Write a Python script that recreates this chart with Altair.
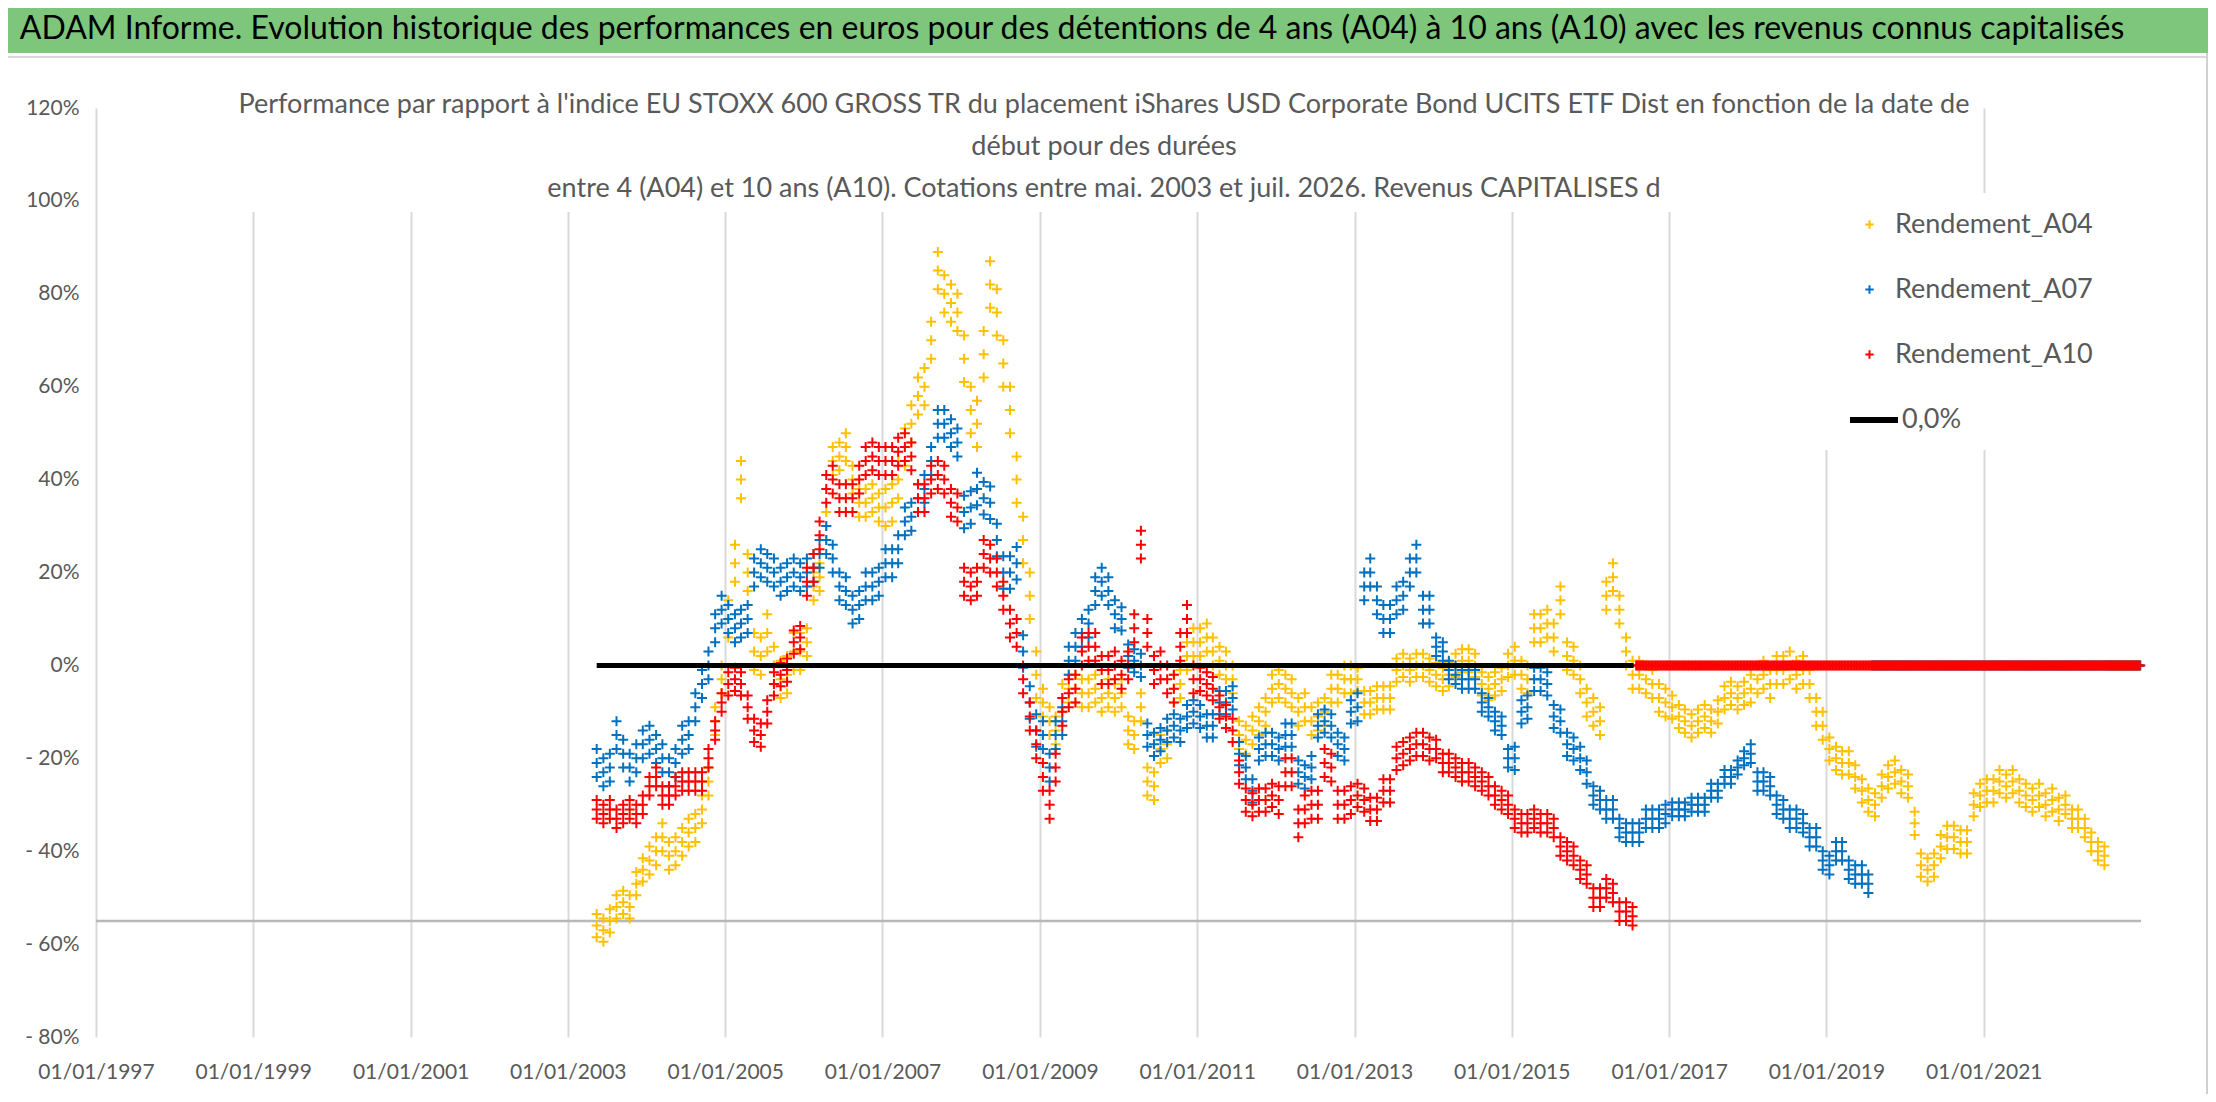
import altair as alt
import pandas as pd

FONT = "Lato, Liberation Sans, sans-serif"

TITLE = ("ADAM Informe. Evolution historique des performances en euros pour des "
         "détentions de 4 ans (A04) à 10 ans (A10) avec les revenus connus capitalisés")
SUB1 = ("Performance par rapport à l'indice EU STOXX 600 GROSS TR  du placement iShares USD "
        "Corporate Bond UCITS ETF Dist en fonction de la date de")
SUB2 = "début pour des durées"
SUB3 = ("entre 4 (A04) et 10 ans (A10). Cotations entre mai. 2003 et juil. 2026. "
        "Revenus CAPITALISES d")

SERIES = ["Rendement_A04", "Rendement_A07", "Rendement_A10"]
COLORS = ["#FFC000", "#0070C0", "#FF0000"]
LINE_LABEL = "0,0%"

# monthly readings (in %), first month = May 2003
START = "2003-05-01"
A04 = [
    -56, -57, -55, -52, -51, -52, -47, -44,
    -42, -40, -37, -41, -40, -38, -36, -35, -31, -25, -12, -3,
    10, 22, 40, 20, 3, 2, 7, 0, -3, -2, 3, 3,
    5, 17, 19, 30, 44, 45, 47, 40, 35, 35, 36, 34,
    34, 35, 40, 47, 52, 58, 60, 70, 85, 80, 78, 76,
    66, 55, 52, 67, 82, 76, 65, 55, 40, 27, 15, -2,
    -8, -12, -14, -7, -5, -5, -6, -6, -5, -7, -6, -7,
    -6, -14, -15, -9, -25, -26, -18, -17, -5, -4, 2, 5,
    5, 6, 3, 1, 0, -3, -15, -16, -14, -12, -10, -5,
    -4, -5, -6, -10, -9, -12, -11, -10, -5, -5, -3, -3,
    -3, -8, -8, -7, -7, -7, -1, 0, -1, 0, 0, -1,
    -2, -3, -2, 0, 1, 1, 0, -4, -5, -4, -3, 0,
    1, -2, -3, 8, 8, 9, 6, 14, 2, 1, -3, -8,
    -10, -12, 15, 19, 12, 3, -2, -2, -3, -4, -7, -8,
    -9, -11, -12, -13, -12, -11, -12, -10, -7, -6, -7, -6,
    -5, -3, -2, -4, -1, -1, 0, -2, -1, -4, -10, -13,
    -18, -20, -21, -21, -24, -27, -29, -30, -26, -24, -23, -25,
    -26, -34, -43, -44, -43, -39, -37, -37, -38, -38, -30, -28,
    -27, -27, -25, -26, -25, -27, -28, -29, -28, -30, -29, -31,
    -30, -33, -33, -35, -38, -40, -41,
]
A07 = [
    -21, -23, -22, -15, -19, -22, -20, -17,
    -16, -18, -20, -23, -21, -16, -15, -9, -4, 0, 8, 12,
    10, 8, 9, 10, 20, 22, 21, 20, 18, 19, 20, 19,
    20, 21, 24, 27, 23, 17, 16, 12, 13, 17, 17, 18,
    22, 22, 25, 31, 32, 36, 38, 44, 52, 52, 50, 48,
    33, 34, 38, 36, 35, 27, 20, 20, 22, 3, -8, -14,
    -15, -22, -15, -12, 1, 4, 7, 9, 16, 18, 16, 11,
    10, 2, 1, 0, -15, -17, -16, -14, -13, -14, -11, -10,
    -11, -13, -13, -8, -8, -7, -19, -22, -27, -18, -17, -17,
    -18, -15, -15, -23, -24, -22, -13, -12, -13, -17, -18, -10,
    -9, 17, 20, 14, 10, 10, 14, 15, 20, 23, 12, 12,
    4, 3, -1, -2, -3, -3, -3, -8, -9, -12, -13, -20,
    -20, -10, -9, -3, -3, -4, -11, -12, -17, -18, -20, -23,
    -28, -29, -31, -31, -35, -36, -36, -36, -33, -33, -33, -32,
    -31, -31, -31, -30, -30, -30, -27, -27, -24, -24, -22, -20,
    -19, -25, -25, -26, -30, -31, -33, -33, -34, -37, -37, -42,
    -43, -40, -40, -44, -45, -45, -47,
]
A10 = [
    -31, -32, -31, -33, -32, -31, -32, -30,
    -26, -24, -28, -28, -26, -25, -25, -25, -25, -20, -14, -8,
    -4, -3, -4, -9, -14, -15, -10, -4, -2, -1, 5, 6,
    18, 21, 28, 38, 40, 36, 36, 36, 40, 44, 45, 44,
    44, 44, 46, 47, 45, 36, 36, 40, 41, 40, 35, 34,
    18, 17, 18, 24, 23, 20, 15, 9, 7, -3, -11, -17,
    -24, -30, -22, -10, -6, -5, 3, 4, 4, -1, -1, 0,
    -2, 0, 8, 26, 7, -1, 0, -3, -5, 4, 10, -3,
    -3, -4, -5, -9, -11, -14, -23, -29, -30, -29, -29, -28,
    -29, -23, -23, -34, -31, -30, -30, -21, -22, -30, -30, -29,
    -28, -29, -31, -31, -27, -27, -20, -19, -18, -17, -17, -18,
    -18, -21, -21, -22, -23, -23, -24, -25, -26, -28, -29, -30,
    -33, -34, -34, -33, -34, -34, -35, -39, -40, -41, -44, -45,
    -50, -50, -48, -49, -53, -53, -54,
]
# half-thickness (in %) of the daily scatter band around the monthly reading,
# read from the chart for each calendar year starting 2003
SPREAD_A04 = [2.5, 3, 4, 3, 4, 5, 3, 3, 3, 3, 2.5, 2.5, 3, 3, 2.5, 3, 2.5, 2.5, 2.5, 2]
SPREAD_A07 = [3, 3, 3, 3, 3, 3.5, 3, 2.5, 2.5, 2.5, 3, 2, 2.5, 2, 1.5, 2, 2]
SPREAD_A10 = [2, 2, 2.5, 3, 3, 3, 3, 3, 2.5, 3, 2.5, 2, 2, 2]
# after the end of each series the sheet shows 0 % (weekly dates until end of axis)
ZERO_FROM = ["2022-08-01", "2019-08-01", "2016-08-01"]
ZERO_TO = "2022-12-31"
ZERO_VALUE = 0.0
# black reference line 0,0 %
LINE_DATES = ["2003-05-15", "2016-07-20"]
LINE_VALUES = [0.0, 0.0]
# horizontal axis crossing value
AXIS_CROSS = -55
TICK_YEARS = list(range(1997, 2022, 2))
Y_TICKS = [-80, -60, -40, -20, 0, 20, 40, 60, 80, 100, 120]

rows = []
for name, vals, spr, zf in zip(SERIES, [A04, A07, A10], [SPREAD_A04, SPREAD_A07, SPREAD_A10], ZERO_FROM):
    dates = pd.date_range(START, periods=len(vals), freq="MS") + pd.Timedelta(days=14)
    for d, v in zip(dates, vals):
        s = spr[d.year - 2003]
        for vv in (v - s, v, v + s):
            rows.append({"date": d.strftime("%Y-%m-%d"), "value": vv, "serie": name})
    for d in pd.date_range(zf, ZERO_TO, freq="7D"):
        rows.append({"date": d.strftime("%Y-%m-%d"), "value": ZERO_VALUE, "serie": name})
pts = pd.DataFrame(rows)
line_df = pd.DataFrame({"date": LINE_DATES, "value": LINE_VALUES, "ref": LINE_LABEL})
one = pd.DataFrame({"k": [0]})

W, H = 2045, 929
GRAY = "#595959"
CROSS = "M-1,0L1,0M0,-1L0,1"

xdef = alt.X(
    "date:T",
    scale=alt.Scale(type="utc", domain=[alt.DateTime(year=1997, month=1, date=1, utc=True),
                                        alt.DateTime(year=2023, month=1, date=1, utc=True)]),
    axis=alt.Axis(values=[alt.DateTime(year=y, month=1, date=1, utc=True) for y in TICK_YEARS],
                  labelExpr="utcFormat(datum.value, '%d/%m/%Y')", title=None, labelFontSize=21,
                  labelPadding=24, labelFont=FONT, labelColor=GRAY, domain=False, ticks=False,
                  gridColor="#d9d9d9", gridWidth=2, labelFlush=False),
)
ydef = alt.Y(
    "value:Q",
    scale=alt.Scale(domain=[-80, 120], nice=False, zero=False),
    axis=alt.Axis(values=Y_TICKS, title=None, labelFontSize=21, labelFont=FONT, labelColor=GRAY,
                  labelPadding=17, domain=False, ticks=False, gridColor="#d9d9d9", gridWidth=2,
                  labelExpr="datum.value < 0 ? '- ' + abs(datum.value) + '%' : datum.value + '%'"),
)

axis_rule = alt.Chart(one).mark_rule(color="#b8b8b8", strokeWidth=2.5).encode(y=alt.datum(AXIS_CROSS))

points = alt.Chart(pts).mark_point(shape=CROSS, filled=False, size=100, strokeWidth=2, opacity=1).encode(
    x=xdef, y=ydef,
    color=alt.Color("serie:N", scale=alt.Scale(domain=SERIES, range=COLORS),
                    legend=alt.Legend(title=None, orient="none", legendX=1760, legendY=103,
                                      symbolType=CROSS, symbolSize=70, symbolStrokeWidth=2,
                                      labelFont=FONT, labelFontSize=27, labelColor=GRAY,
                                      labelLimit=0, labelOffset=12, rowPadding=37, padding=0)),
)

zero_line = alt.Chart(line_df).mark_line(strokeWidth=5).encode(
    x=xdef, y=ydef,
    stroke=alt.Stroke("ref:N", scale=alt.Scale(domain=[LINE_LABEL], range=["black"]),
                      legend=alt.Legend(title=None, orient="none", legendX=1751, legendY=285,
                                        symbolType="stroke", symbolSize=2304, symbolStrokeWidth=6,
                                        labelFont=FONT, labelFontSize=27, labelColor=GRAY,
                                        labelLimit=0, labelOffset=1, padding=0)),
)

# decorations: banner, title box, legend box, border
banner = alt.Chart(one).mark_rect(color="#7dc67c").encode(
    x=alt.value(-88), x2=alt.value(2112), y=alt.value(-100), y2=alt.value(-55))
banner_line = alt.Chart(one).mark_rect(color="#d9d9d9").encode(
    x=alt.value(-88), x2=alt.value(2112), y=alt.value(-52), y2=alt.value(-50))
right_border = alt.Chart(one).mark_rect(color="#d0d0d0").encode(
    x=alt.value(2110), x2=alt.value(2112), y=alt.value(-55), y2=alt.value(986))
title_txt = alt.Chart(one).mark_text(text=TITLE, font=FONT, fontSize=32, color="black",
                                     align="center", baseline="middle").encode(
    x=alt.value(976), y=alt.value(-79))
sub_box = alt.Chart(one).mark_rect(color="white").encode(
    x=alt.value(144), x2=alt.value(1871), y=alt.value(-4), y2=alt.value(104))
leg_box = alt.Chart(one).mark_rect(color="white").encode(
    x=alt.value(1712), x2=alt.value(2046), y=alt.value(85), y2=alt.value(342))
subs = []
for txt, yy in [(SUB1, -3), (SUB2, 39), (SUB3, 81)]:
    subs.append(alt.Chart(one).mark_text(text=txt, font=FONT, fontSize=27, color=GRAY,
                                         align="center", baseline="middle").encode(
        x=alt.value(1008), y=alt.value(yy)))

chart = alt.layer(
    axis_rule, points, zero_line, banner, banner_line, right_border, title_txt,
    sub_box, leg_box, *subs
).properties(
    width=W, height=H,
    padding={"left": 88, "top": 100, "right": 67, "bottom": 57},
    autosize=alt.AutoSizeParams(type="none"),
    background="white",
).configure_view(strokeWidth=0)

chart.save("out.html", embed_options={"renderer": "svg", "actions": False})
